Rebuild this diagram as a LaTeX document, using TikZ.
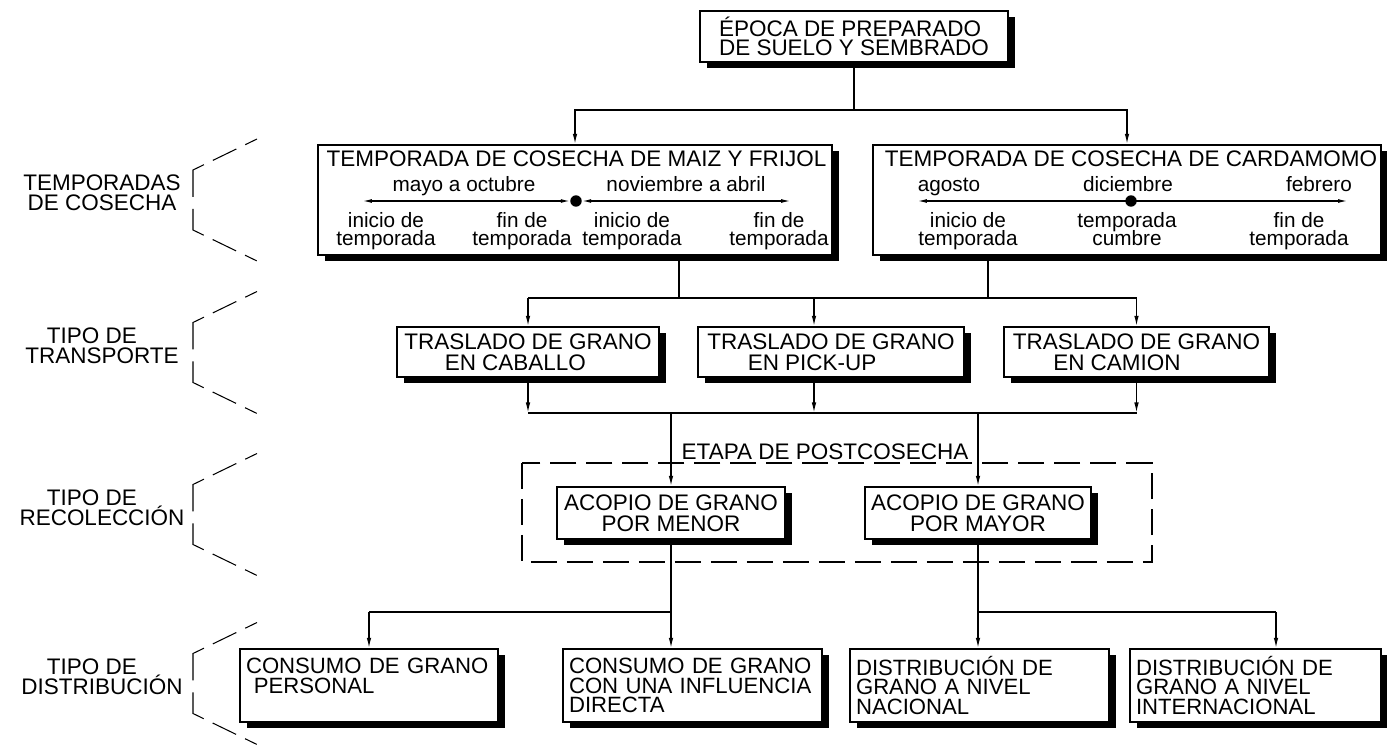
\documentclass[tikz,border=0pt]{standalone}
\usepackage{fontspec}
\setmainfont{Liberation Sans}
\usetikzlibrary{arrows.meta, shadows}
\setlength\lineskiplimit{-20pt}
\newcommand\textomay{\fontsize{12.8}{12}\selectfont}
\newcommand\textomin{\fontsize{11.8}{10.4}\selectfont}
\tikzset{
  every picture/.style={line width=0.8pt},
  caja/.style={draw, fill=white, inner sep=0pt, align=center, font=\textomay,
    drop shadow={opacity=1, fill=black, shadow xshift=4pt, shadow yshift=-3.6pt}},
  flecha/.style={-{Latex[length=6pt, width=2.6pt]}},
  doble/.style={{Latex[length=5pt, width=2.2pt]}-{Latex[length=5pt, width=2.2pt]}, line width=0.6pt},
  punto/.style={circle, fill, inner sep=0pt, minimum size=6.5pt},
  titulo/.style={anchor=base, inner sep=0pt, font=\textomay},
  nota/.style={align=center, inner sep=0pt, font=\textomin},
  etiqueta/.style={align=center, inner sep=0pt, font=\fontsize{12.8}{11.6}\selectfont},
  llave/.style={line width=0.6pt, dash pattern=on 0.26cm off 0.2cm on 0.52cm off 0.2cm on 0.78cm off 0.24cm on 0.66cm off 0.2cm on 0.52cm off 0.2cm on 0.26cm off 1cm},
  marco/.style={line width=0.6pt, dash pattern=on 0.52cm off 0.2cm},
}

\begin{document}
\begin{tikzpicture}[x=0.02cm, y=-0.02cm]
  \tikzset{fila3/.style={caja, align=left, inner xsep=0.12cm, minimum height=1.46cm,
             font=\fontsize{12.6}{11}\selectfont}}
  \useasboundingbox (0,0) rectangle (1387,746);
  % niveles de la izquierda
  \foreach \yc/\txt [count=\i] in {200/{TEMPORADAS\\DE COSECHA},
      352.5/{TIPO DE\hspace*{0.9em}\\TRANSPORTE},
      514.5/{TIPO DE\hspace*{0.9em}\\RECOLECCIÓN},
      683.5/{TIPO DE\hspace*{0.9em}\\DISTRIBUCIÓN}}{
    \node[etiqueta] (nivel\i) at (102,\yc-7) {\txt};
    \draw[llave] (257,\yc-61) -- (193,\yc-30) -- (193,\yc+30) -- (257,\yc+61);
  }
  % cajas
  \node[caja, align=left, font=\fontsize{12.8}{11}\selectfont,
        minimum width=6.16cm, minimum height=1.02cm] (epoca) at (854,36.5)
       {ÉPOCA DE PREPARADO\\DE SUELO Y SEMBRADO};
  \node[caja, minimum width=10.28cm, minimum height=2.2cm] (maiz) at (575,200) {};
  \node[caja, minimum width=10.16cm, minimum height=2.2cm] (carda) at (1127,200) {};
  \node[caja, align=left, minimum width=5.24cm, minimum height=1cm] (caballo) at (528,352)
       {TRASLADO DE GRANO\\\hspace*{1.8em}EN CABALLO};
  \node[caja, align=left, minimum width=5.32cm, minimum height=1cm] (pickup) at (831,352)
       {TRASLADO DE GRANO\\\hspace*{1.8em}EN PICK-UP};
  \node[caja, align=left, minimum width=5.3cm, minimum height=1cm] (camion) at (1136.5,352)
       {TRASLADO DE GRANO\\\hspace*{1.8em}EN CAMION};
  \node[caja, minimum width=4.56cm, minimum height=1.04cm] (menor) at (671,513)
       {ACOPIO DE GRANO\\POR MENOR};
  \node[caja, minimum width=4.52cm, minimum height=1.04cm] (mayor) at (978,513)
       {ACOPIO DE GRANO\\POR MAYOR};
  \node[fila3, minimum width=5.16cm, text width=4.92cm] (personal) at (369,685.5)
       {CONSUMO DE GRANO\\\hspace*{0.35em}PERSONAL\\\mbox{}};
  \node[fila3, minimum width=5.18cm, text width=4.94cm] (influencia) at (692.5,685.5)
       {CONSUMO DE GRANO\\CON UNA INFLUENCIA\\DIRECTA};
  \node[fila3, minimum width=5.18cm, text width=4.94cm] (nacional) at (979.5,685.5)
       {DISTRIBUCIÓN DE\\GRANO A NIVEL\\NACIONAL};
  \node[fila3, minimum width=5.02cm, text width=4.78cm] (internacional) at (1255.5,685.5)
       {DISTRIBUCIÓN DE\\GRANO A NIVEL\\INTERNACIONAL};

  % temporada de maiz y frijol
  \node[titulo] (tmaiz) at (576.5,167) {TEMPORADA DE COSECHA DE MAIZ Y FRIJOL};
  \node[nota, anchor=base] (mayo) at (464,192) {mayo a octubre};
  \node[nota, anchor=base] (nov) at (686,192) {noviembre a abril};
  \node[punto] (d1) at (576,201) {};
  \coordinate (a1) at (363,201);
  \coordinate (a2) at (790,201);
  \draw[doble] (a1) -- (d1.west);
  \draw[doble] (d1.east) -- (a2);
  \node[nota, anchor=north] (m1) at (386,212) {inicio de\\temporada};
  \node[nota, anchor=north] (m2) at (522,212) {fin de\\temporada};
  \node[nota, anchor=north] (m3) at (632,212) {inicio de\\temporada};
  \node[nota, anchor=north] (m4) at (779,212) {fin de\\temporada};

  % temporada de cardamomo
  \node[titulo] (tcarda) at (1131,167) {TEMPORADA DE COSECHA DE CARDAMOMO};
  \node[nota, anchor=base] (ago) at (949,192) {agosto};
  \node[nota, anchor=base] (dic) at (1128,192) {diciembre};
  \node[nota, anchor=base] (feb) at (1319,192) {febrero};
  \node[punto] (d2) at (1131,201) {};
  \coordinate (a3) at (918,201);
  \coordinate (a4) at (1347,201);
  \draw[doble] (a3) -- (a4);
  \node[nota, anchor=north] (k1) at (968,212) {inicio de\\temporada};
  \node[nota, anchor=north] (k2) at (1127,212) {temporada\\cumbre};
  \node[nota, anchor=north] (k3) at (1299,212) {fin de\\temporada};

  % postcosecha
  \draw[marco] (522,463) rectangle (1152,562);
  \node[titulo] (etapa) at (825,460) {ETAPA DE POSTCOSECHA};

  % conectores
  \coordinate (j1) at (854,110);
  \draw (epoca.south) -- (j1);
  \draw[flecha] (j1) -| (maiz.north);
  \draw[flecha] (j1) -| (carda.north);
  \coordinate (c1) at (679,298);
  \coordinate (c2) at (988,298);
  \coordinate (c3) at (814,298);
  \draw (maiz.south -| c1) -- (c1);
  \draw (carda.south -| c2) -- (c2);
  \draw (caballo.north |- c1) -- (camion.north |- c1);
  \draw[flecha] (caballo.north |- c1) -- (caballo.north);
  \draw[flecha] (c3) -- (c3 |- pickup.north);
  \draw[flecha] (camion.north |- c1) -- (camion.north);
  \coordinate (c5) at (671,413);
  \draw[flecha] (caballo.south) -- (caballo.south |- c5);
  \draw[flecha] (c3 |- pickup.south) -- (c3 |- c5);
  \draw[flecha] (camion.south) -- (camion.south |- c5);
  \draw (caballo.south |- c5) -- (camion.south |- c5);
  \draw[flecha] (c5) -- (menor.north);
  \draw[flecha] (mayor.north |- c5) -- (mayor.north);
  \coordinate (c7) at (671,612);
  \coordinate (c8) at (978,612);
  \coordinate (c9) at (1276,612);
  \draw (menor.south) -- (c7) -- (personal.north |- c7);
  \draw[flecha] (personal.north |- c7) -- (personal.north);
  \draw[flecha] (c7) -- (c7 |- influencia.north);
  \draw (mayor.south) -- (c8) -- (c9);
  \draw[flecha] (c8) -- (c8 |- nacional.north);
  \draw[flecha] (c9) -- (c9 |- internacional.north);
\end{tikzpicture}
\end{document}
